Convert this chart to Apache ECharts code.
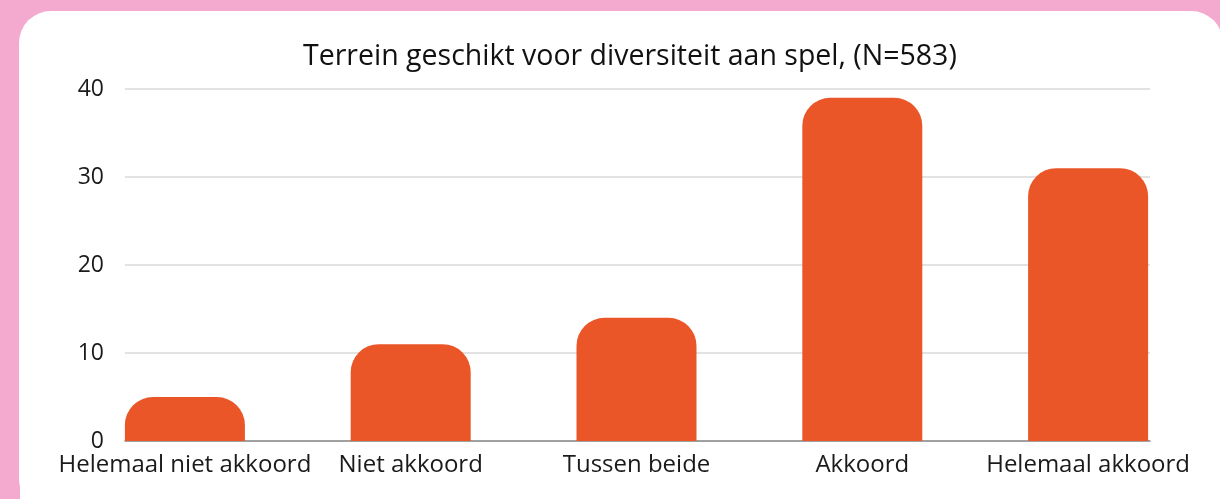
<!DOCTYPE html>
<html>
<head>
<meta charset="utf-8">
<script src="https://cdn.jsdelivr.net/npm/echarts@6/dist/echarts.min.js"></script>
<style>
  html, body { margin: 0; padding: 0; width: 1220px; height: 499px; background: #F4AACF; overflow: hidden; }
  #card { position: absolute; left: 19px; top: 11px; width: 1204px; height: 500px; background: #fff; border-radius: 32px; }
  #chart { position: absolute; left: 0; top: 0; width: 1220px; height: 499px; }
</style>
</head>
<body>
<div id="card"></div>
<div id="chart"></div>
<script>
const titleText = 'Terrein geschikt voor diversiteit aan spel, (N=583)';
const categories = ['Helemaal niet akkoord', 'Niet akkoord', 'Tussen beide', 'Akkoord', 'Helemaal akkoord'];
const values = [5, 11, 14, 39, 31];
const yTicks = [0, 10, 20, 30, 40];

const chart = echarts.init(document.getElementById('chart'), null, { renderer: 'canvas' });
chart.setOption({
  backgroundColor: 'transparent',
  animation: false,
  title: {
    text: titleText, left: 298, top: 37,
    textStyle: { fontFamily: 'Open Sans', fontSize: 28.5, fontWeight: 'normal', color: '#111' }
  },
  grid: [
    { left: 72, right: 19, top: 89, bottom: 58 },
    { left: 125, right: 70, top: 89, bottom: 58 }
  ],
  xAxis: [
    { type: 'category', gridIndex: 0, data: categories,
      axisLine: { show: false }, axisTick: { show: false },
      axisLabel: { margin: 12, fontFamily: 'Open Sans', fontSize: 24, color: '#1a1a1a', interval: 0 } },
    { type: 'value', gridIndex: 1, min: 0, max: 1,
      axisLine: { show: true, lineStyle: { color: '#8a8a8a', width: 1.5 } },
      axisTick: { show: false }, axisLabel: { show: false }, splitLine: { show: false } }
  ],
  yAxis: [
    { type: 'value', gridIndex: 0, min: 0, max: yTicks[yTicks.length - 1], show: false },
    { type: 'value', gridIndex: 1, min: yTicks[0], max: yTicks[yTicks.length - 1], interval: 10,
      axisLine: { show: false }, axisTick: { show: false },
      axisLabel: { margin: 21, fontFamily: 'Open Sans', fontSize: 23, color: '#1a1a1a' },
      splitLine: { lineStyle: { color: '#d9d9d9', width: 1.5 } } }
  ],
  series: [{
    type: 'bar', xAxisIndex: 0, yAxisIndex: 0, data: values, barWidth: 120,
    itemStyle: { color: '#EB5629', borderRadius: [28, 28, 0, 0] }, z: 5
  }],
  graphic: [{
    type: 'rect', z: 100, silent: true,
    shape: { x: 20, y: 475, width: 1200, height: 30 },
    style: { fill: '#fff' }
  }]
});
</script>
</body>
</html>
